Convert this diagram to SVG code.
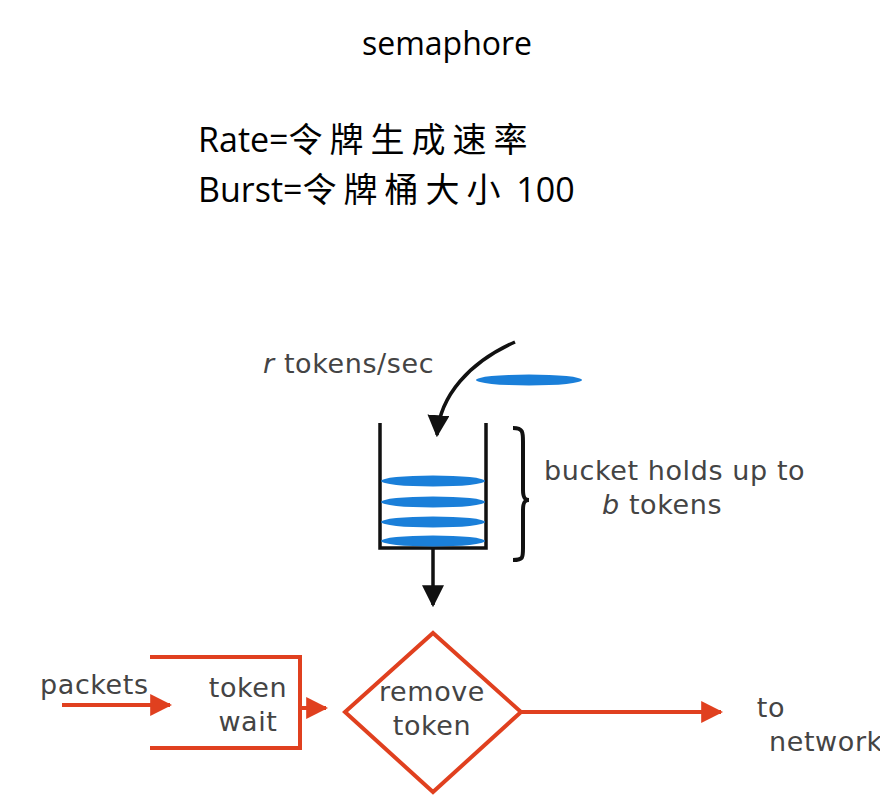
<svg xmlns="http://www.w3.org/2000/svg" width="880" height="802" viewBox="0 0 880 802">
<style>
.t{font-family:"Open Sans","Noto Sans CJK SC",sans-serif;fill:#000}
.c{letter-spacing:7px}
.d{font-family:"DejaVu Sans",sans-serif;fill:#444;font-size:27px;letter-spacing:0.6px}
.r{stroke:#e0401f;stroke-width:4;fill:none}
.tok{fill:#1a7fd9}
.k{stroke:#111;stroke-width:3.5;fill:none}
</style>
<defs>
<marker id="ah2" viewBox="0 0 10 10" refX="9" refY="5" markerWidth="22" markerHeight="22" orient="auto" markerUnits="userSpaceOnUse"><path d="M0,0L10,5L0,10z" fill="#111"/></marker>
<marker id="ar" viewBox="0 0 10 10" refX="9" refY="5" markerWidth="22" markerHeight="22" orient="auto" markerUnits="userSpaceOnUse"><path d="M0,0L10,5L0,10z" fill="#e0401f"/></marker>
</defs>
<rect width="880" height="802" fill="#fff"/>
<text class="t" x="447" y="55" font-size="32" text-anchor="middle">semaphore</text>
<text class="t" x="198" y="152" font-size="34">Rate=<tspan class="c">令牌生成速率</tspan></text>
<text class="t" x="198" y="202" font-size="34" xml:space="preserve">Burst=<tspan class="c">令牌桶大小</tspan> 100</text>
<g id="bucket">
<path class="k" d="M380,423V548H486V423"/>
<ellipse class="tok" cx="433" cy="481" rx="52" ry="5.5"/>
<ellipse class="tok" cx="433" cy="502" rx="52" ry="5.5"/>
<ellipse class="tok" cx="433" cy="522" rx="52" ry="5.5"/>
<ellipse class="tok" cx="433" cy="541" rx="52" ry="5.5"/>
<ellipse class="tok" cx="529" cy="380" rx="53" ry="5.5"/>
<path d="M513,428c10,0 10,4 10,14v48c0,8 2,10 6,10c-4,0 -6,2 -6,10v38c0,10 0,12 -10,12" fill="none" stroke="#111" stroke-width="4"/>
<text class="d" x="544" y="480">bucket holds up to</text>
<text class="d" x="602" y="514"><tspan font-style="italic">b</tspan> tokens</text>
<text class="d" x="263" y="373"><tspan font-style="italic">r</tspan> tokens/sec</text>
</g>
<g id="tokenwait">
<path class="r" d="M150,657H300V748H150"/>
<text class="d" x="248" y="697" text-anchor="middle">token</text>
<text class="d" x="248" y="731" text-anchor="middle">wait</text>
</g>
<g id="remove">
<path class="r" d="M433,633L521,712L433,792L345,712Z"/>
<text class="d" x="432" y="701" text-anchor="middle">remove</text>
<text class="d" x="432" y="735" text-anchor="middle">token</text>
</g>
<g id="labels">
<text class="d" x="40" y="694">packets</text>
<text class="d" x="771" y="717" text-anchor="middle">to</text>
<text class="d" x="769" y="751">network</text>
</g>
<g id="connectors">
<path class="k" d="M515,342C470,362 440,395 437,435" marker-end="url(#ah2)"/>
<path class="k" d="M433,548V605" marker-end="url(#ah2)"/>
<path class="r" d="M62,705H170" marker-end="url(#ar)"/>
<path class="r" d="M300,708H326" marker-end="url(#ar)"/>
<path class="r" d="M521,712H721" marker-end="url(#ar)"/>
</g>
</svg>
